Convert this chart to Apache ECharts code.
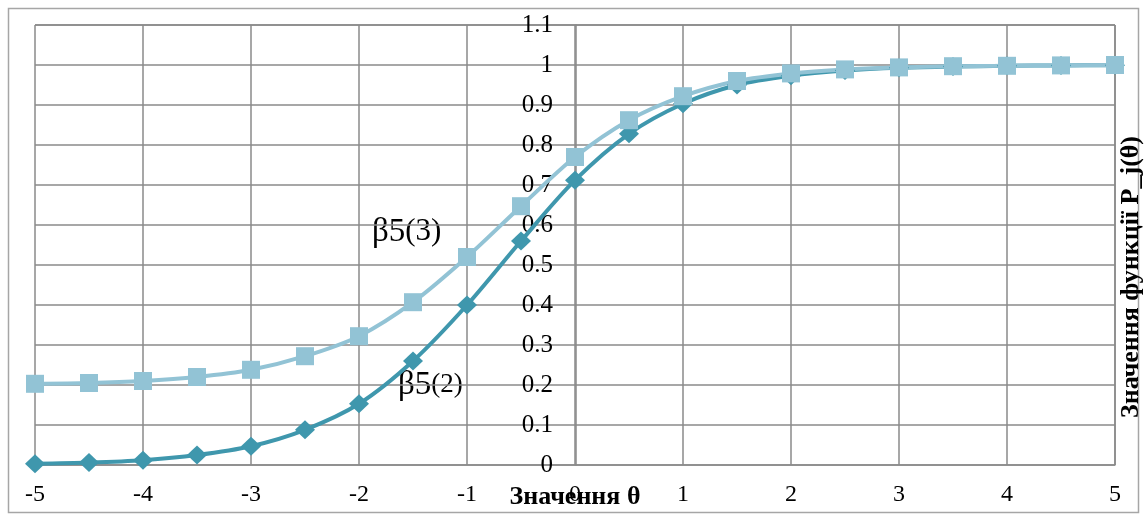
<!DOCTYPE html>
<html>
<head>
<meta charset="utf-8">
<script src="https://cdn.jsdelivr.net/npm/echarts@6/dist/echarts.min.js"></script>
<style>
  html, body { margin: 0; padding: 0; background: #fff; }
  #chart { width: 1146px; height: 514px; }
</style>
</head>
<body>
<div id="chart"></div>
<script>
// дані
var theta = [-5, -4.5, -4, -3.5, -3, -2.5, -2, -1.5, -1, -0.5, 0, 0.5, 1, 1.5, 2, 2.5, 3, 3.5, 4, 4.5, 5];
var beta52 = [0.003, 0.006, 0.012, 0.025, 0.047, 0.088, 0.153, 0.26, 0.40, 0.56, 0.712, 0.828, 0.903, 0.950, 0.973, 0.986, 0.993, 0.996, 0.998, 0.999, 0.9995];
var beta53 = [0.203, 0.205, 0.210, 0.220, 0.238, 0.272, 0.322, 0.407, 0.52, 0.647, 0.77, 0.862, 0.922, 0.960, 0.979, 0.989, 0.994, 0.997, 0.998, 0.999, 1.0];

function pairs(xs, ys) {
  var out = [];
  for (var i = 0; i < xs.length; i++) out.push([xs[i], ys[i]]);
  return out;
}

var font = 'Liberation Serif';
var gridColor = '#8a8a8a';

var myChart = echarts.init(document.getElementById('chart'));
var option = {
  backgroundColor: '#fff',
  animation: false,
  grid: { left: 35, right: 31, top: 25, bottom: 49, show: false, outerBoundsMode: 'none', containLabel: false },
  xAxis: {
    type: 'value',
    min: -5, max: 5, interval: 1,
    name: 'Значення θ',
    nameLocation: 'middle',
    nameGap: 19,
    nameMoveOverlap: false,
    nameTextStyle: { fontFamily: font, fontSize: 26, fontWeight: 'bold', color: '#000' },
    axisLine: { show: true, lineStyle: { color: gridColor, width: 1.5 } },
    axisTick: { show: false },
    axisLabel: { fontFamily: font, fontSize: 24, color: '#000', margin: 18 },
    splitLine: { show: true, lineStyle: { color: gridColor, width: 1.5 } }
  },
  yAxis: {
    type: 'value',
    min: 0, max: 1.1, interval: 0.1,
    position: 'left',
    offset: -541,
    axisLine: { show: true, onZero: false, lineStyle: { color: gridColor, width: 1.5 } },
    axisTick: { show: false },
    axisLabel: {
      fontFamily: font, fontSize: 25, color: '#000', margin: 23,
      formatter: function (v) { return String(Math.round(v * 10) / 10); }
    },
    splitLine: { show: true, lineStyle: { color: gridColor, width: 1.5 } }
  },
  series: [
    {
      name: 'β5(2)',
      type: 'line',
      smooth: 0.3,
      data: pairs(theta, beta52),
      symbol: 'diamond',
      symbolSize: [20, 19],
      lineStyle: { color: '#3f97ad', width: 4 },
      itemStyle: { color: '#3f97ad' }
    },
    {
      name: 'β5(3)',
      type: 'line',
      smooth: 0.3,
      data: pairs(theta, beta53),
      symbol: 'rect',
      symbolSize: 18,
      lineStyle: { color: '#92c3d5', width: 4 },
      itemStyle: { color: '#92c3d5' }
    }
  ],
  graphic: [
    {
      type: 'rect', z: -1,
      shape: { x: 8.5, y: 8.5, width: 1130, height: 504 },
      style: { fill: 'none', stroke: '#a6a6a6', lineWidth: 1.5 }
    },
    {
      type: 'line',
      shape: { x1: 35, y1: 25, x2: 1115, y2: 25 },
      style: { stroke: gridColor, lineWidth: 1.5 }
    },
    {
      type: 'line',
      shape: { x1: 1115, y1: 25, x2: 1115, y2: 465 },
      style: { stroke: gridColor, lineWidth: 1.5 }
    },
    {
      type: 'text', x: 1131, y: 277, rotation: Math.PI / 2,
      style: {
        text: 'Значення функції P_j(θ)',
        font: 'bold 26px "Liberation Serif"', fill: '#000',
        textAlign: 'center', textVerticalAlign: 'middle'
      }
    },
    {
      type: 'text', x: 372, y: 232,
      style: {
        text: '{a|β5}{b|(3)}',
        rich: {
          a: { fontFamily: font, fontSize: 33, fill: '#000' },
          b: { fontFamily: font, fontSize: 31, fill: '#000' }
        },
        textVerticalAlign: 'middle'
      }
    },
    {
      type: 'text', x: 398, y: 385,
      style: {
        text: '{a|β5}{b|(2)}',
        rich: {
          a: { fontFamily: font, fontSize: 33, fill: '#000' },
          b: { fontFamily: font, fontSize: 27, fill: '#000' }
        },
        textVerticalAlign: 'middle'
      }
    }
  ]
};
myChart.setOption(option);
</script>
</body>
</html>
